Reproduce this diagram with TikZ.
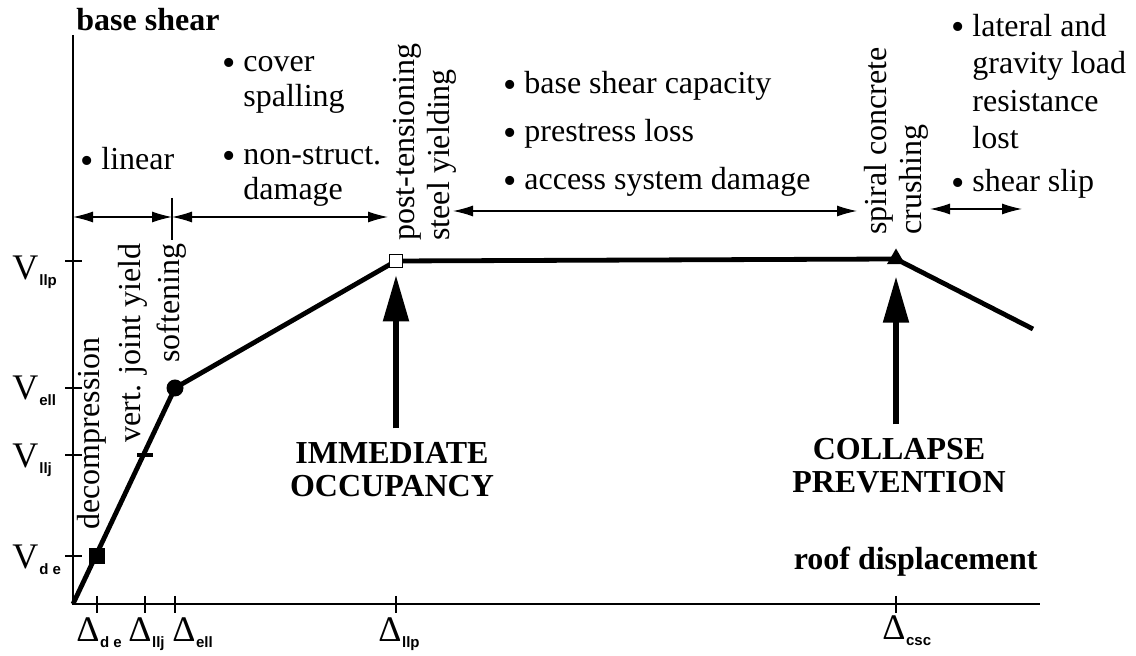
\documentclass[tikz,border=0pt]{standalone}
\usepackage{fontspec}
\setmainfont{Liberation Serif}
\setsansfont{Liberation Sans}
\usetikzlibrary{arrows.meta,shapes.geometric}

\newcommand{\sublbl}[1]{\raisebox{-3pt}{\fontsize{7.5}{8}\selectfont\sffamily\bfseries #1}}
\newcommand{\vlbl}[1]{V\kern0.5pt\sublbl{#1}}
\newcommand{\dlbl}[1]{Δ\kern0.3pt\sublbl{#1}}
\newcommand{\itm}{\makebox[10.5pt][l]{\raisebox{-1.8pt}{\fontsize{19}{17}\selectfont\textbullet}}}
\newcommand{\cont}{\hspace*{10.5pt}}

\begin{document}
\begin{tikzpicture}[
    x=0.5pt, y=-0.5pt,
    every node/.style={inner sep=0pt},
    txt/.style={font=\fontsize{16}{17.5}\selectfont, align=left},
    bold/.style={font=\fontsize{16}{16.5}\selectfont\bfseries, align=center},
    axlbl/.style={font=\fontsize{18}{20}\selectfont},
    span/.style={{Latex[length=10pt,width=5.5pt]}-{Latex[length=10pt,width=5.5pt]}, line width=0.6pt},
    bigup/.style={-{Triangle[length=23pt,width=12.5pt]}, line width=2.6pt},
    curve/.style={line width=2.4pt, line join=round},
    axis/.style={line width=0.8pt},
    tick/.style={line width=0.6pt}
]
\useasboundingbox (0,0) rectangle (1136,656);

% Axes
\coordinate (O) at (73,604);
\coordinate (ytop) at (73,35);
\coordinate (xend) at (1040,604);
\draw[axis] (ytop) -- (O) -- (xend);

% Capacity curve
\coordinate (de) at (97,556);
\coordinate (llj) at (145,455);
\coordinate (ell) at (175,388);
\coordinate (llp) at (396,261);
\coordinate (csc) at (896,259);
\coordinate (last) at (1033,329);
\draw[curve] (O) -- (ell) -- (llp) -- (csc) -- (last);

% Markers on the curve
\node[fill, minimum size=8pt] (mde) at (de) {};
\node[fill, minimum width=8pt, minimum height=2.2pt] (mllj) at (llj) {};
\node[circle, fill, minimum size=8.5pt] (mell) at (ell) {};
\node[draw, fill=white, line width=0.8pt, minimum size=6.5pt] (mllp) at (llp) {};
\node[regular polygon, regular polygon sides=3, fill, minimum size=10.5pt] (mcsc) at (csc) {};

% Ticks
\foreach \pt in {de,llj,ell,llp,csc}
    \draw[tick] ([yshift=4pt]\pt |- O) -- ([yshift=-4.5pt]\pt |- O);
\foreach \pt in {de,llj,ell,llp}
    \draw[tick] ([xshift=-4pt]O |- \pt) -- ([xshift=4.5pt]O |- \pt);

% Axis labels
\node[bold, anchor=base west] (yname) at (76,31) {base shear};
\node[bold, anchor=base east] (xname) at (1038,570) {roof displacement};

\node[axlbl, anchor=base west] (Vllp) at (12,280) {\vlbl{llp}};
\node[axlbl, anchor=base west] (Vell) at (12,400) {\vlbl{ell}};
\node[axlbl, anchor=base west] (Vllj) at (12,468) {\vlbl{llj}};
\node[axlbl, anchor=base west] (Vde) at (12,569) {\vlbl{d\ e}};

\node[axlbl, anchor=base west] (Dde) at (76,642) {\dlbl{d\ e}};
\node[axlbl, anchor=base west] (Dllj) at (128,642) {\dlbl{llj}};
\node[axlbl, anchor=base west] (Dell) at (172,642) {\dlbl{ell}};
\node[axlbl, anchor=base west] (Dllp) at (378,642) {\dlbl{llp}};
\node[axlbl, anchor=base west] (Dcsc) at (882,640) {\dlbl{csc}};

% Event labels along the curve
\node[txt, rotate=90, anchor=west] (decomp) at (92,530) {decompression};
\node[txt, rotate=90, anchor=west] (vjy) at (133,443) {vert. joint yield};
\node[txt, rotate=90, anchor=west] (soft) at (172,363) {softening};
\node[txt, rotate=90, anchor=west] (ptsy) at (425,241) {post-tensioning\\steel yielding};
\node[txt, rotate=90, anchor=west] (scc) at (896,235) {spiral concrete\\crushing};

% Damage ranges
\coordinate (r1a) at (73,217);
\coordinate (r1b) at (172,217);
\coordinate (r1c) at (388,217);
\coordinate (r2a) at (453,211);
\coordinate (r2b) at (857,211);
\coordinate (r3a) at (930,209);
\coordinate (r3b) at (1022,209);
\draw[span] (r1a) -- (r1b);
\draw[span] (r1b) -- (r1c);
\draw[tick] ([yshift=9.5pt]r1b) -- ([yshift=-11.5pt]r1b);
\draw[span] (r2a) -- (r2b);
\draw[span] (r3a) -- (r3b);

% (base anchor of a multi-line node = baseline of its last line)
\node[txt, anchor=base west] (linear) at (80,170) {\itm linear};
\node[txt, anchor=base west] (spall) at (222,107) {\itm cover\\\cont spalling};
\node[txt, anchor=base west] (nonstr) at (222,200) {\itm non-struct.\\\cont damage};
\node[txt, anchor=base west, font=\fontsize{16}{24}\selectfont] (capac) at (503,190) {\itm base shear capacity\\\itm prestress loss\\\itm access system damage};
\node[txt, anchor=base west, font=\fontsize{16}{18.8}\selectfont] (lost) at (951,149) {\itm lateral and\\\cont gravity load\\\cont resistance\\\cont lost};
\node[txt, anchor=base west] (slip) at (951,192) {\itm shear slip};

% Performance levels
\node[bold] (io) at (392,470) {IMMEDIATE\\OCCUPANCY};
\node[bold] (cp) at (899,466) {COLLAPSE\\PREVENTION};
\draw[bigup] ([yshift=7pt]io.north -| llp) -- ([yshift=-3.5pt]mllp.south);
\draw[bigup] ([yshift=7pt]cp.north -| csc) -- ([yshift=-6pt]mcsc.south);

\end{tikzpicture}
\end{document}
